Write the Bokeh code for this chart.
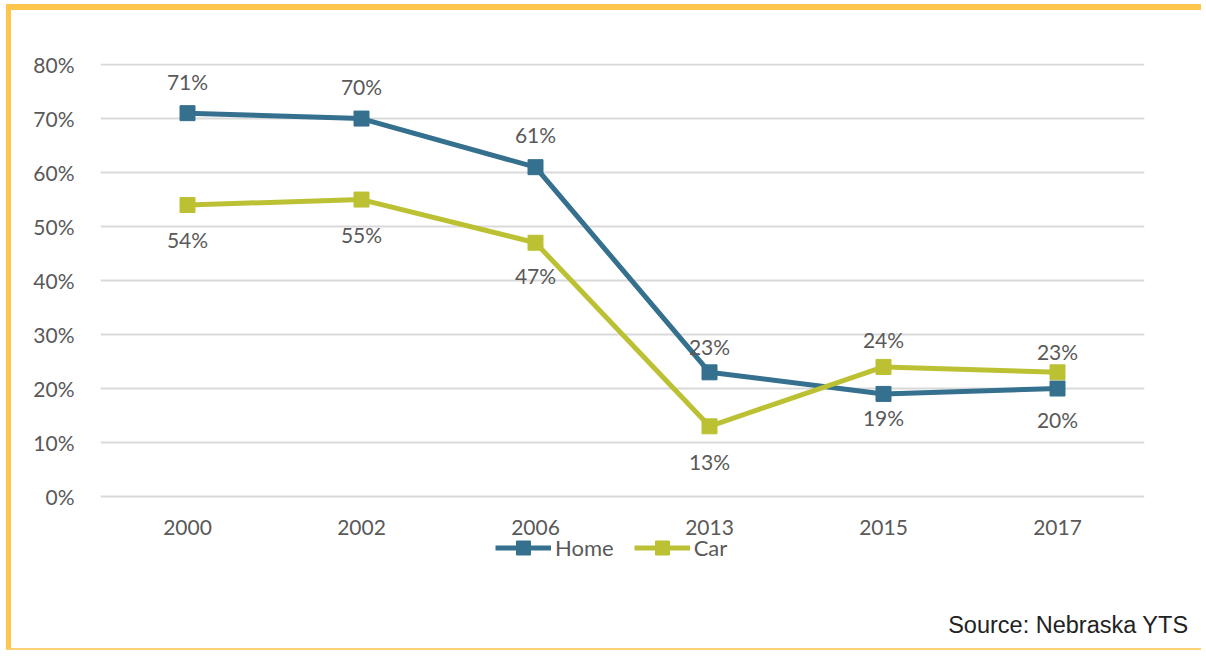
from bokeh.plotting import figure
from bokeh.models import ColumnDataSource, Legend, LegendItem, Title, FactorRange, LabelSet
from bokeh.core.properties import value
from bokeh.embed import file_html
from bokeh.resources import INLINE

years = ["2000", "2002", "2006", "2013", "2015", "2017"]
home = [71, 70, 61, 23, 19, 20]
car = [54, 55, 47, 13, 24, 23]
y_ticks = [0, 10, 20, 30, 40, 50, 60, 70, 80]

# label offsets in px (style): positive = above the point, negative = below
home_label_off = [32, 32, 33, 26, -24, -31]
car_label_off = [-35, -35, -33, -35, 27, 21]

HOME_C = "#35708f"
CAR_C = "#bcc133"
TXT = "#595959"
FONT = "Lato"
FS = "21px"

p = figure(width=1195, height=646, x_range=FactorRange(*years), y_range=(-18.15, 80.2),
           output_backend="svg", toolbar_location=None,
           min_border_left=89, min_border_right=62, min_border_top=53, min_border_bottom=62)
p.styles = {"border-top": "6px solid #ffc64d", "border-left": "5px solid #ffc64d",
            "border-bottom": "2px solid #ffd27a",
            "margin-top": "4px", "margin-left": "6px"}
p.outline_line_color = None
p.background_fill_color = "white"
p.border_fill_color = "white"

p.xgrid.grid_line_color = None
p.ygrid.grid_line_color = "#d9d9d9"
p.ygrid.grid_line_width = 2
p.yaxis.ticker = y_ticks
p.yaxis.major_label_overrides = {t: f"{t}%" for t in y_ticks}
p.xaxis.fixed_location = 0
for ax in (p.xaxis[0], p.yaxis[0]):
    ax.axis_line_color = None
    ax.major_tick_line_color = None
    ax.minor_tick_line_color = None
    ax.major_label_text_color = TXT
    ax.major_label_text_font = FONT
    ax.major_label_text_font_size = FS
p.yaxis.major_label_standoff = 20
p.xaxis.major_label_standoff = 17

src_h = ColumnDataSource(dict(x=years, y=home, t=[f"{v}%" for v in home], off=home_label_off))
src_c = ColumnDataSource(dict(x=years, y=car, t=[f"{v}%" for v in car], off=car_label_off))

lh = p.line("x", "y", source=src_h, line_color=HOME_C, line_width=5)
sh = p.scatter("x", "y", source=src_h, marker="square", size=15, fill_color=HOME_C, line_color=HOME_C)
lc = p.line("x", "y", source=src_c, line_color=CAR_C, line_width=5)
sc = p.scatter("x", "y", source=src_c, marker="square", size=15, fill_color=CAR_C, line_color=CAR_C)

for s in (src_h, src_c):
    p.add_layout(LabelSet(x="x", y="y", text="t", source=s, y_offset="off",
                          text_align="center", text_baseline="middle",
                          text_color=TXT, text_font=value(FONT), text_font_size=FS))

legend = Legend(items=[LegendItem(label="Home", renderers=[lh, sh]),
                       LegendItem(label="Car", renderers=[lc, sc])],
                orientation="horizontal", location=(395, 29),
                glyph_width=56, glyph_height=35, spacing=20, label_standoff=4,
                label_text_font=FONT, label_text_font_size="22px", label_text_color=TXT,
                background_fill_alpha=0, border_line_color=None, padding=0, margin=0)
p.add_layout(legend, "center")

p.add_layout(Title(text="Source: Nebraska YTS", align="right", vertical_align="middle",
                   text_color="#222222",
                   text_font="Liberation Sans", text_font_size="23.5px", text_font_style="normal",
                   standoff=32, offset=-44), "below")

open("out.html", "w").write(file_html(p, INLINE))
